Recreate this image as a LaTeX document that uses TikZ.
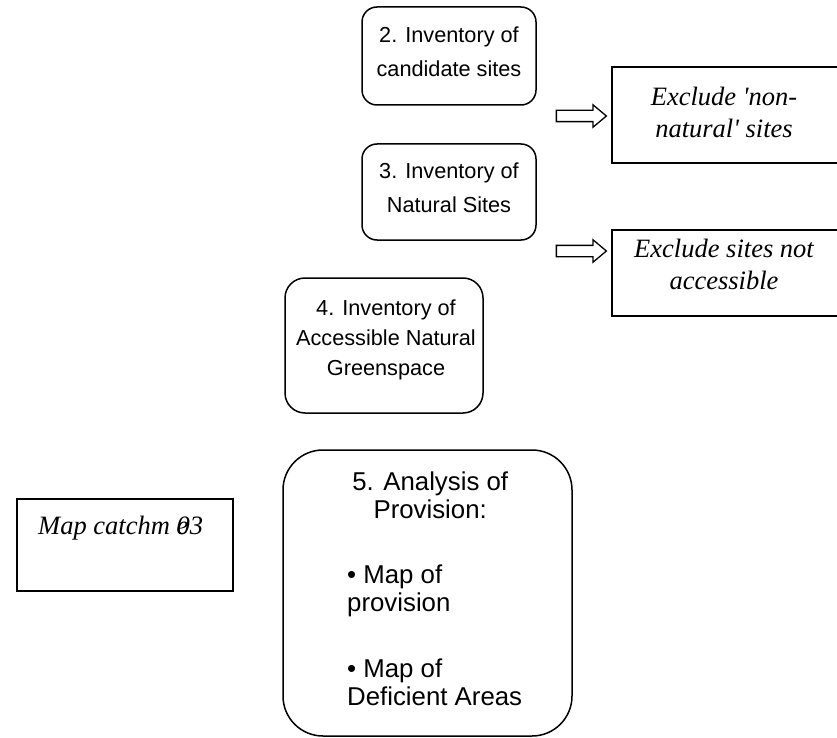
\documentclass[tikz,border=0pt]{standalone}
\usepackage{fontspec}
\setmainfont{Liberation Serif}[Ligatures=TeXOff]
\setsansfont{Liberation Sans}
\usetikzlibrary{shapes.arrows}
\begin{document}
\begin{tikzpicture}[x=1pt,y=-1pt,
  stage/.style={draw, line width=1.5pt, rounded corners=15pt, inner sep=0pt},
  exclbox/.style={draw, line width=1.5pt, inner sep=0pt},
  sans/.style={font=\sffamily\fontsize{21.7}{34}\selectfont, align=center, inner sep=0pt},
  ital/.style={font=\rmfamily\itshape\fontsize{26.5}{32}\selectfont, align=center, inner sep=0pt},
  blockarrow/.style={single arrow, draw, line width=1.3pt, minimum height=50pt,
    minimum width=21pt, single arrow head extend=5.5pt, inner xsep=0pt, inner ysep=5pt,
    single arrow tip angle=80}
]
\useasboundingbox (0,0) rectangle (837,738);

% boxes
\node[stage, minimum width=174pt, minimum height=98pt] (s2) at (449,56) {};
\node[stage, minimum width=174pt, minimum height=96pt] (s3) at (449,192) {};
\node[stage, rounded corners=20pt, minimum width=198pt, minimum height=135pt] (s4) at (384,345.5) {};
\node[stage, rounded corners=40pt, minimum width=289pt, minimum height=286pt] (s5) at (427.5,593) {};
\node[exclbox, minimum width=230pt, minimum height=96pt] (x1) at (727,115) {};
\node[exclbox, minimum width=230pt, minimum height=86pt] (x2) at (727,273) {};
\node[exclbox, minimum width=216pt, minimum height=92pt] (mc) at (125,545) {};

% arrows
\node[blockarrow] (a1) at (578,116) {};
\node[blockarrow] (a2) at (578,251) {};

% texts
\node[sans] (t2) at (449,52) {2. Inventory of\\candidate sites};
\node[sans] (t3) at (449,188) {3. Inventory of\\Natural Sites};
\node[sans, font=\sffamily\fontsize{21.7}{30}\selectfont] (t4) at (386,340) {4. Inventory of\\Accessible Natural\\Greenspace};
\node[sans, font=\sffamily\fontsize{25.8}{27.5}\selectfont, align=left, anchor=north west] (t5) at (347,472)
  {\makebox[166pt][c]{5. Analysis of}\\\makebox[166pt][c]{Provision:}\\[38pt]%
   • Map of\\provision\\[39pt]• Map of\\Deficient Areas};
\node[ital] (tx1) at (724,112) {Exclude 'non-\\natural' sites};
\node[ital] (tx2) at (724,264) {Exclude sites not\\accessible};
\node[ital, anchor=west] (tmc) at (38,528) {Map catchm \rlap{e}03};
\end{tikzpicture}
\end{document}
